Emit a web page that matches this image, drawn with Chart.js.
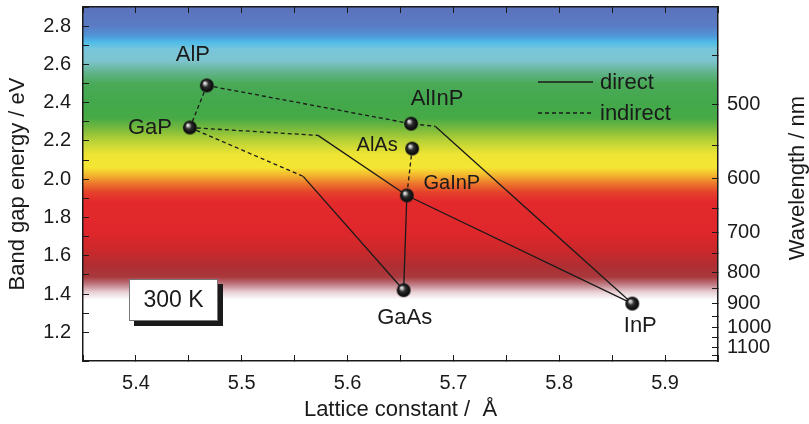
<!DOCTYPE html>
<html>
<head>
<meta charset="utf-8">
<script src="https://cdn.jsdelivr.net/npm/chart.js@4.4.0/dist/chart.umd.min.js"></script>
<style>
  html, body { margin: 0; padding: 0; background: #fff; }
</style>
</head>
<body>
<canvas id="chart" width="809" height="424"></canvas>
<script>
// ==== Data ====
const compounds = ['GaP', 'AlP', 'AlAs', 'GaAs', 'InP', 'GaInP', 'AlInP'];
const latticeConst = [5.451, 5.467, 5.661, 5.653, 5.869, 5.656, 5.660];
const bandGap = [2.27, 2.49, 2.16, 1.42, 1.35, 1.915, 2.29];

// direct (solid) and indirect (dashed) branches, [a, Eg] pairs
const directLines = [
    [[5.572, 2.229], [5.656, 1.915], [5.869, 1.35]],
    [[5.558, 2.015], [5.653, 1.42]],
    [[5.653, 1.42], [5.656, 1.915]],
    [[5.683, 2.276], [5.869, 1.35]]
];
const indirectLines = [
    [[5.467, 2.49], [5.451, 2.27]],
    [[5.467, 2.49], [5.660, 2.29], [5.683, 2.276]],
    [[5.451, 2.27], [5.572, 2.229]],
    [[5.451, 2.27], [5.558, 2.015]],
    [[5.661, 2.16], [5.656, 1.915]]
];

// right axis: wavelength ticks and where they sit on the energy scale
const wavelengthTicks = [450, 500, 550, 600, 650, 700, 750, 800, 850, 900, 950, 1000, 1050, 1100, 1150];
const wavelengthLabels = ['', '500', '', '600', '', '700', '', '800', '', '900', '', '1000', '', '1100', ''];
const wavelengthTickEnergy = [2.648, 2.392, 2.177, 2.004, 1.847, 1.721, 1.612, 1.512, 1.428, 1.349, 1.282, 1.224, 1.172, 1.120, 1.078];

// ==== Styles ====
const FONT = "'Liberation Sans', Arial, sans-serif";
const INK = '#1a1a1a';

// label offsets (px) from each ball, and font size
const labelOffsets = [[-40, 0], [-14, -31], [-35, -3], [1, 28], [8, 22], [45, -12], [26, -25]];
const labelSizes = [22, 22, 20, 22, 22, 20, 22];

// spectrum background, [energy, colour]
const spectrumStops = [
    [2.90, '#5b72bb'], [2.80, '#5a7cc4'], [2.75, '#4f96d8'], [2.715, '#4fbde9'],
    [2.68, '#78c6db'], [2.62, '#7ec4d0'], [2.56, '#62b48e'], [2.50, '#4aaa58'],
    [2.40, '#43a84b'], [2.32, '#46aa46'], [2.26, '#7cbb3c'], [2.20, '#b9d236'],
    [2.13, '#eee433'], [2.06, '#f5e533'], [2.02, '#f3b42f'], [1.98, '#ec7a2c'],
    [1.93, '#e5402b'], [1.88, '#e3292c'], [1.72, '#df272b'], [1.62, '#c9282b'],
    [1.55, '#b02e32'], [1.49, '#a8383c'], [1.45, '#c07c84'], [1.41, '#e8d0d4'],
    [1.37, '#ffffff'], [1.05, '#ffffff']
];

function makeBall(r) {
    const c = document.createElement('canvas');
    c.width = c.height = 2 * r + 2;
    const g = c.getContext('2d');
    const cx = r + 1, cy = r + 1;
    const grad = g.createRadialGradient(cx - r * 0.35, cy - r * 0.4, 0, cx, cy, r);
    grad.addColorStop(0, '#ffffff');
    grad.addColorStop(0.18, '#c4c4c4');
    grad.addColorStop(0.45, '#2e2e2e');
    grad.addColorStop(0.88, '#0a0a0a');
    grad.addColorStop(1, '#2a2a2a');
    g.fillStyle = grad;
    g.beginPath();
    g.arc(cx, cy, r, 0, Math.PI * 2);
    g.fill();
    return c;
}
const ball = makeBall(7);

const toXY = pts => pts.map(p => ({ x: p[0], y: p[1] }));

const datasets = [{
    type: 'scatter',
    data: latticeConst.map((a, i) => ({ x: a, y: bandGap[i] })),
    pointStyle: ball,
    pointRadius: 7
}];
directLines.forEach(l => datasets.push({
    type: 'line', data: toXY(l), borderColor: INK, borderWidth: 1.3,
    pointRadius: 0, fill: false, tension: 0
}));
indirectLines.forEach(l => datasets.push({
    type: 'line', data: toXY(l), borderColor: INK, borderWidth: 1.3, borderDash: [4, 3],
    pointRadius: 0, fill: false, tension: 0
}));

// ==== Plugins ====
const spectrumBg = {
    id: 'spectrumBg',
    beforeDraw(chart) {
        const { ctx, chartArea: a, scales } = chart;
        const y = scales.y;
        const grad = ctx.createLinearGradient(0, a.top, 0, a.bottom);
        spectrumStops.forEach(([e, col]) => {
            const f = (y.getPixelForValue(e) - a.top) / (a.bottom - a.top);
            grad.addColorStop(Math.min(1, Math.max(0, f)), col);
        });
        ctx.save();
        ctx.fillStyle = grad;
        ctx.fillRect(a.left, a.top, a.right - a.left, a.bottom - a.top);
        ctx.restore();
    }
};

const overlay = {
    id: 'overlay',
    afterDatasetsDraw(chart) {
        const { ctx, chartArea: a } = chart;
        ctx.save();
        ctx.fillStyle = INK;
        ctx.textAlign = 'center';
        ctx.textBaseline = 'middle';
        // compound names
        chart.getDatasetMeta(0).data.forEach((pt, i) => {
            ctx.font = labelSizes[i] + 'px ' + FONT;
            ctx.fillText(compounds[i], pt.x + labelOffsets[i][0], pt.y + labelOffsets[i][1]);
        });

        // legend
        ctx.strokeStyle = INK;
        ctx.lineWidth = 1.3;
        const lx = a.left + 455, ly = a.top + 75;
        ctx.beginPath(); ctx.moveTo(lx, ly); ctx.lineTo(lx + 55, ly); ctx.stroke();
        ctx.setLineDash([4, 3]);
        ctx.beginPath(); ctx.moveTo(lx, ly + 31); ctx.lineTo(lx + 55, ly + 31); ctx.stroke();
        ctx.setLineDash([]);
        ctx.font = '22px ' + FONT;
        ctx.textAlign = 'left';
        ctx.fillText('direct', lx + 62, ly + 1);
        ctx.fillText('indirect', lx + 62, ly + 32);

        // 300 K box
        const bx = a.left + 46, by = a.top + 272, bw = 89, bh = 42;
        ctx.fillStyle = '#1a1a1a';
        ctx.fillRect(bx + 5, by + 5, bw, bh);
        ctx.fillStyle = '#ffffff';
        ctx.fillRect(bx, by, bw, bh);
        ctx.strokeStyle = '#777';
        ctx.lineWidth = 1;
        ctx.strokeRect(bx + 0.5, by + 0.5, bw - 1, bh - 1);
        ctx.fillStyle = INK;
        ctx.font = '23px ' + FONT;
        ctx.textAlign = 'center';
        ctx.fillText('300 K', bx + bw / 2, by + bh / 2 + 1);

        // right axis title, reading upward
        ctx.translate(chart.width - 11, (a.top + a.bottom) / 2 - 6);
        ctx.rotate(-Math.PI / 2);
        ctx.font = '22px ' + FONT;
        ctx.fillText('Wavelength / nm', 0, 0);
        ctx.restore();
    }
};

// ==== Chart ====
const tickFont = { family: FONT, size: 20 };
const titleFont = { family: FONT, size: 22 };
const border = { display: true, color: INK, width: 1.5 };
const isMultiple = (v, step) => Math.abs(v / step - Math.round(v / step)) < 1e-6;
const noPad = s => { s.paddingTop = 0; s.paddingBottom = 0; s.paddingLeft = 0; s.paddingRight = 0; };

new Chart(document.getElementById('chart'), {
    data: { datasets },
    plugins: [spectrumBg, overlay],
    options: {
        responsive: false,
        animation: false,
        events: [],
        layout: { padding: 0, autoPadding: false },
        plugins: { legend: { display: false }, tooltip: { enabled: false } },
        scales: {
            x: {
                type: 'linear', position: 'bottom', min: 5.35, max: 5.95,
                border,
                grid: { drawOnChartArea: false, tickLength: -6, color: INK, tickColor: INK },
                ticks: {
                    stepSize: 0.05, autoSkip: false, padding: 16, color: INK, font: tickFont,
                    callback: v => isMultiple(v, 0.1) ? v.toFixed(1) : ''
                },
                title: { display: true, text: 'Lattice constant /  Å', color: INK, font: titleFont, padding: { top: 0, bottom: 1 } },
                afterFit: s => { s.height = 63; noPad(s); }
            },
            x2: {
                type: 'linear', position: 'top', min: 5.35, max: 5.95,
                border,
                grid: { drawOnChartArea: false, tickLength: -6, tickColor: INK },
                ticks: { stepSize: 0.05, display: false },
                afterFit: s => { s.height = 7; noPad(s); }
            },
            y: {
                type: 'linear', position: 'left', min: 1.05, max: 2.9,
                border,
                grid: { drawOnChartArea: false, tickLength: -6, tickColor: INK },
                ticks: {
                    stepSize: 0.1, autoSkip: false, padding: 18, color: INK, font: tickFont,
                    callback: v => (isMultiple(v, 0.1) && Math.round(v * 10) % 2 === 0) ? v.toFixed(1) : ''
                },
                title: { display: true, text: 'Band gap energy / eV', color: INK, font: titleFont, padding: { top: 5, bottom: 0 } },
                afterFit: s => { s.width = 83; noPad(s); }
            },
            y2: {
                type: 'linear', position: 'right', min: 1.05, max: 2.9,
                border,
                grid: { drawOnChartArea: false, tickLength: -6, tickColor: INK },
                afterBuildTicks: s => { s.ticks = wavelengthTickEnergy.map(v => ({ value: v })); },
                ticks: {
                    autoSkip: false, padding: 15, color: INK, font: tickFont,
                    callback: (v, i) => wavelengthLabels[i]
                },
                afterFit: s => { s.width = 91; noPad(s); }
            }
        }
    }
});
</script>
</body>
</html>
